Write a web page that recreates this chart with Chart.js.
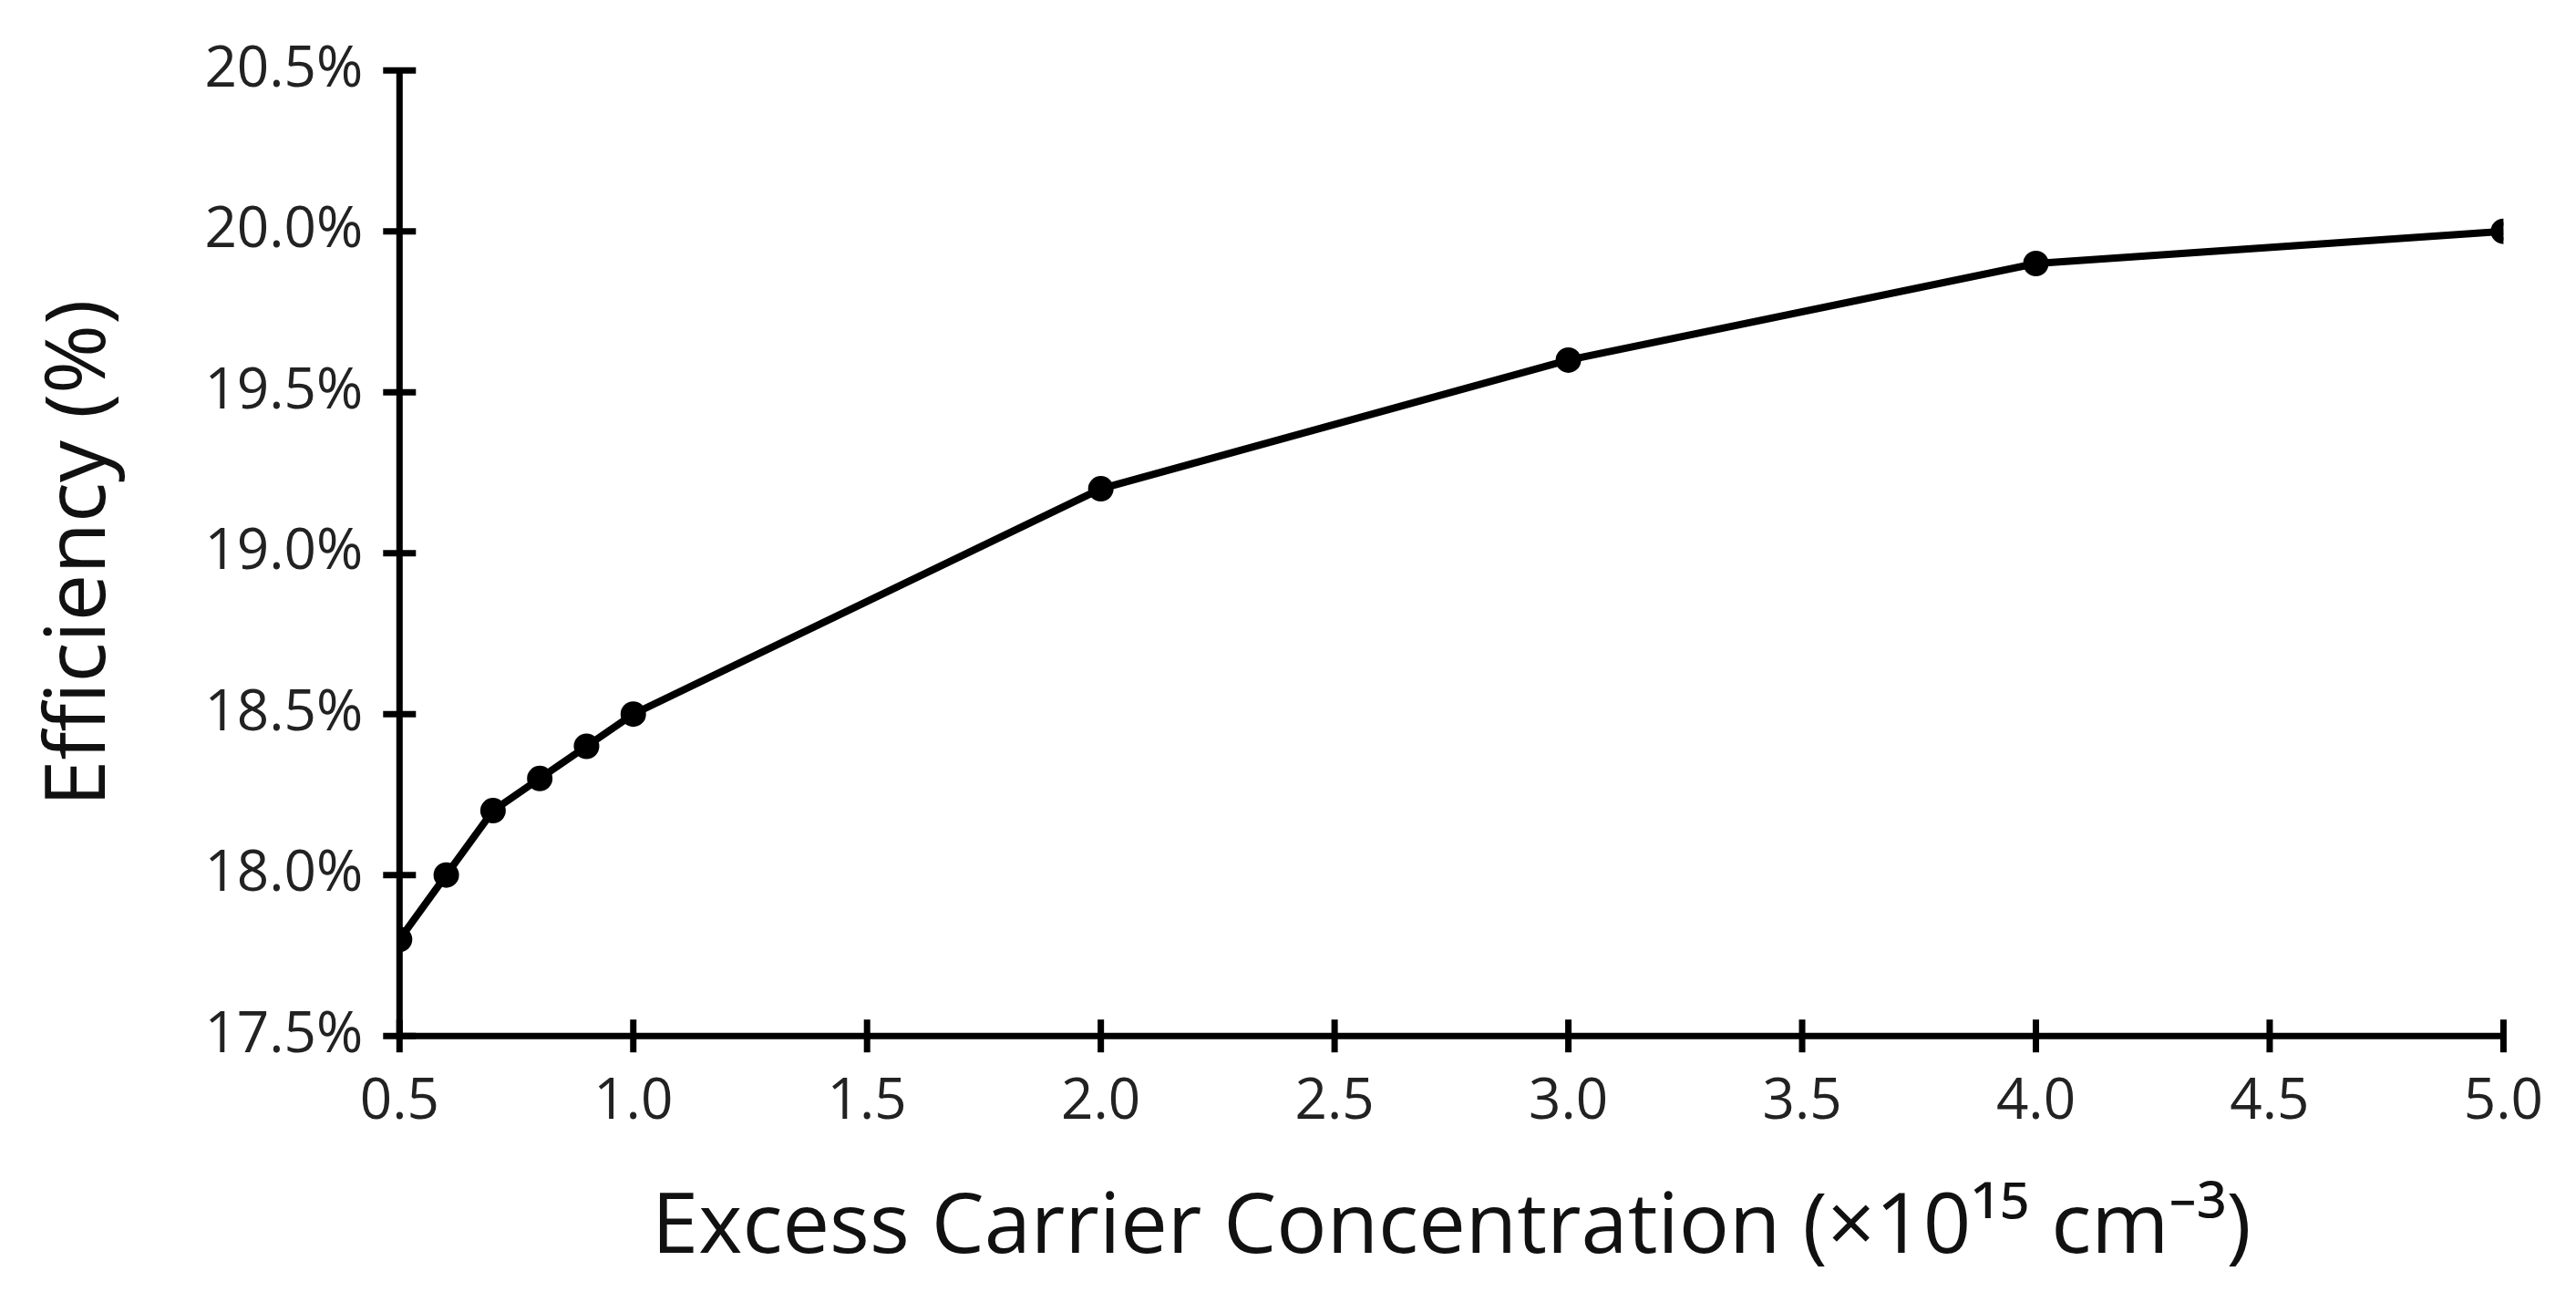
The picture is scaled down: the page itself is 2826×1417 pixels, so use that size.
<!DOCTYPE html>
<html><head><meta charset="utf-8">
<script src="https://cdn.jsdelivr.net/npm/chart.js@4"></script>
<style>html,body{margin:0;padding:0;background:#fff}#c{display:block}</style>
</head><body>
<canvas id="c" width="2826" height="1417"></canvas>
<script>
const concentration = [0.5, 0.6, 0.7, 0.8, 0.9, 1.0, 2.0, 3.0, 4.0, 5.0];
const efficiency = [17.8, 18.0, 18.2, 18.3, 18.4, 18.5, 19.2, 19.6, 19.9, 20.0];
const xTitle = 'Excess Carrier Concentration (×10¹⁵ cm⁻³)';
const yTitle = 'Efficiency (%)';
const FONT = 'Open Sans';

const crossTicks = {
  id: 'crossTicks',
  afterDraw(chart) {
    const ctx = chart.ctx, x = chart.scales.x, y = chart.scales.y;
    const a = chart.chartArea;
    ctx.save();
    ctx.strokeStyle = '#000'; ctx.lineWidth = 7;
    for (let v = 17.5; v <= 20.5001; v += 0.5) {
      const py = y.getPixelForValue(v);
      ctx.beginPath(); ctx.moveTo(a.left - 18, py); ctx.lineTo(a.left + 18, py); ctx.stroke();
    }
    for (let v = 0.5; v <= 5.0001; v += 0.5) {
      const px = x.getPixelForValue(v);
      ctx.beginPath(); ctx.moveTo(px, a.bottom - 18); ctx.lineTo(px, a.bottom + 18); ctx.stroke();
    }
    ctx.beginPath(); ctx.moveTo(a.left, a.top - 3); ctx.lineTo(a.left, a.bottom); ctx.lineTo(a.right, a.bottom); ctx.stroke();
    ctx.restore();
  }
};

new Chart(document.getElementById('c'), {
  type: 'scatter',
  data: { datasets: [{
    data: concentration.map((c, i) => ({ x: c, y: efficiency[i] })),
    showLine: true, borderColor: '#000', backgroundColor: '#000',
    borderWidth: 8, pointRadius: 10, pointHoverRadius: 10, tension: 0
  }]},
  options: {
    responsive: false, animation: false, devicePixelRatio: 1,
    layout: { padding: { top: 30, right: 55, left: 30, bottom: 10 } },
    plugins: { legend: { display: false }, tooltip: { enabled: false } },
    scales: {
      x: { type: 'linear', min: 0.5, max: 5.0,
        grid: { display: false, drawTicks: false }, border: { display: false },
        ticks: { stepSize: 0.5, padding: 36, color: '#222', font: { family: FONT, size: 62 }, callback: v => v.toFixed(1), maxRotation: 0 },
        title: { display: true, text: xTitle, color: '#111', font: { family: FONT, size: 92 }, padding: { top: 10 } } },
      y: { min: 17.5, max: 20.5,
        grid: { display: false, drawTicks: false }, border: { display: false },
        ticks: { stepSize: 0.5, padding: 40, color: '#222', font: { family: FONT, size: 62 }, callback: v => v.toFixed(1) + '%' },
        title: { display: true, text: yTitle, color: '#111', font: { family: FONT, size: 92 }, padding: { bottom: 40 } } }
    }
  },
  plugins: [crossTicks]
});
</script>
</body></html>
